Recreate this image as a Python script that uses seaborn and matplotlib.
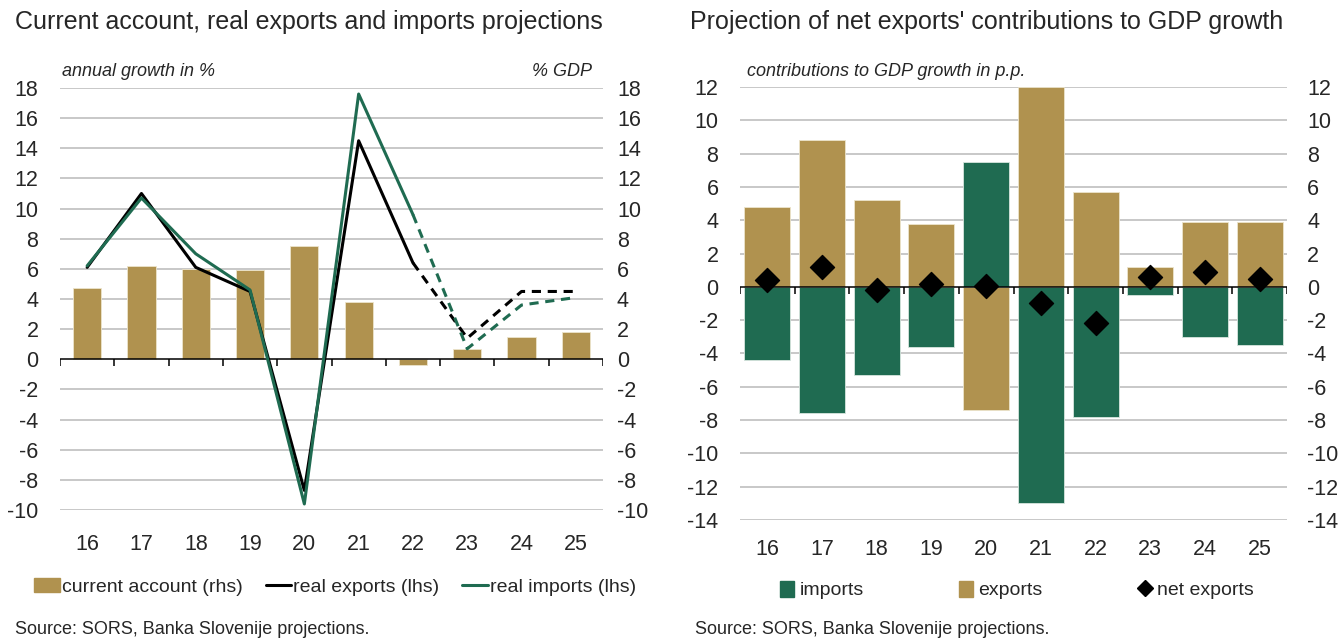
import numpy as np
import pandas as pd
import matplotlib
matplotlib.use('Agg')
import matplotlib.pyplot as plt
from matplotlib.patches import Patch
from matplotlib.lines import Line2D
import seaborn as sns

# %%
# Data
years = ['16', '17', '18', '19', '20', '21', '22', '23', '24', '25']

current_account = [4.7, 6.2, 6.0, 5.9, 7.5, 3.8, -0.4, 0.7, 1.5, 1.8]
real_exports = [6.1, 11.0, 6.1, 4.5, -8.7, 14.5, 6.4, 1.4, 4.5, 4.5]
real_imports = [6.2, 10.7, 7.0, 4.6, -9.6, 17.6, 9.6, 0.7, 3.6, 4.1]
last_actual = 6  # index of '22', where the projection (dashed) starts

exports_contrib = [4.8, 8.8, 5.2, 3.8, -7.4, 12.0, 5.7, 1.2, 3.9, 3.9]
imports_contrib = [-4.4, -7.6, -5.3, -3.6, 7.5, -13.0, -7.8, -0.5, -3.0, -3.5]
net_exports = [0.4, 1.2, -0.2, 0.2, 0.05, -1.0, -2.2, 0.6, 0.9, 0.5]

GOLD = '#b0924f'
GREEN = '#1f6b51'
GRID = '#c4c4c4'
FONT = ['Liberation Sans', 'DejaVu Sans']
TICK_FS = 15.5

sns.set_theme(style='white')
plt.rcParams['font.family'] = FONT

fig = plt.figure(figsize=(13.38, 6.39), dpi=100)
W, H = 1338, 639


def add_ax(x0, y0, x1, y1):
    return fig.add_axes([x0 / W, 1 - y1 / H, (x1 - x0) / W, (y1 - y0) / H])


def style_axis(ax, ylim, step, lpad, rpad, xpad):
    ax.set_ylim(*ylim)
    ax.set_xlim(-0.5, len(years) - 0.5)
    ticks = np.arange(ylim[0], ylim[1] + 0.1, step)
    for t in ticks:
        if t != 0:
            ax.axhline(t, color=GRID, lw=1.3, zorder=0)
    ax.axhline(0, color='black', lw=1.1, zorder=3)
    # small category separators hanging from the zero line
    tick_len = (ylim[1] - ylim[0]) * 0.016
    ax.vlines(np.arange(-0.5, len(years)), -tick_len, 0, color='black', lw=1.1, zorder=3)
    ax.set_xticks(np.arange(len(years)))
    ax.set_xticklabels(years)
    ax.set_yticks(ticks)
    ax.set_yticklabels([f'{t:g}' for t in ticks])
    ax.tick_params(axis='y', length=0, labelsize=TICK_FS, pad=lpad)
    ax.tick_params(axis='x', length=0, labelsize=TICK_FS, pad=xpad)
    ax.set_xlabel('')
    ax.set_ylabel('')
    ax.grid(False)
    for s in ax.spines.values():
        s.set_visible(False)
    # same scale repeated on the right-hand side
    twin = ax.twinx()
    twin.set_ylim(*ylim)
    twin.set_yticks(ticks)
    twin.set_yticklabels([f'{t:g}' for t in ticks])
    twin.tick_params(axis='y', length=0, labelsize=TICK_FS, pad=rpad)
    twin.grid(False)
    for s in twin.spines.values():
        s.set_visible(False)


# %%
# Left panel: current account, real exports and imports
ax1 = add_ax(60, 88, 603, 510)
sns.barplot(x=years, y=current_account, color=GOLD, width=0.52, saturation=1,
            edgecolor='#ece4cc', linewidth=0.6, ax=ax1, zorder=1)
x_pos = np.arange(len(years))
act = pd.DataFrame({'x': x_pos[:last_actual + 1],
                    'exp': real_exports[:last_actual + 1],
                    'imp': real_imports[:last_actual + 1]})
proj = pd.DataFrame({'x': x_pos[last_actual:],
                     'exp': real_exports[last_actual:],
                     'imp': real_imports[last_actual:]})
sns.lineplot(data=act, x='x', y='exp', color='black', lw=2.2, ax=ax1, zorder=4)
sns.lineplot(data=act, x='x', y='imp', color=GREEN, lw=2.2, ax=ax1, zorder=5)
sns.lineplot(data=proj, x='x', y='exp', color='black', lw=2.2, ax=ax1, zorder=4)
ax1.lines[-1].set_linestyle((0, (3, 2.2)))
sns.lineplot(data=proj, x='x', y='imp', color=GREEN, lw=2.2, ax=ax1, zorder=5)
ax1.lines[-1].set_linestyle((0, (3, 2.2)))
style_axis(ax1, (-10, 18), 2, 15.5, 10, 17)

# Right panel: contributions to GDP growth
ax2 = add_ax(740, 87, 1287, 520)
sns.barplot(x=years, y=exports_contrib, color=GOLD, width=0.84, saturation=1,
            edgecolor='#ece4cc', linewidth=0.6, ax=ax2, zorder=1)
sns.barplot(x=years, y=imports_contrib, color=GREEN, width=0.84, saturation=1,
            edgecolor='#d8e6df', linewidth=0.6, ax=ax2, zorder=1)
sns.scatterplot(x=x_pos, y=net_exports, marker='D', s=150, color='black',
                edgecolor='black', ax=ax2, zorder=6)
style_axis(ax2, (-14, 12), 2, 15.5, 14.5, 14)

# %%
# Titles, subtitles, legends and sources
fig.text(15 / W, 1 - 22 / H, 'Current account, real exports and imports projections',
         fontsize=18, va='center', ha='left')
fig.text(690 / W, 1 - 22 / H, "Projection of net exports' contributions to GDP growth",
         fontsize=18, va='center', ha='left')
fig.text(62 / W, 1 - 72 / H, 'annual growth in %', fontsize=13, style='italic', va='center')
fig.text(592 / W, 1 - 72 / H, '% GDP', fontsize=13, style='italic', va='center', ha='right')
fig.text(747 / W, 1 - 71 / H, 'contributions to GDP growth in p.p.', fontsize=13,
         style='italic', va='center')

left_handles = [Patch(color=GOLD), Line2D([], [], color='black', lw=2.2),
                Line2D([], [], color=GREEN, lw=2.2)]
fig.legend(left_handles, ['current account (rhs)', 'real exports (lhs)', 'real imports (lhs)'],
           loc='center', bbox_to_anchor=(335 / W, 1 - 587 / H), ncol=3, frameon=False,
           fontsize=14, handlelength=1.3, handletextpad=0.1, columnspacing=1.2)
right_handles = [Patch(color=GREEN), Patch(color=GOLD),
                 Line2D([], [], marker='D', color='black', ls='none', markersize=8)]
fig.legend(right_handles, ['imports', 'exports', 'net exports'],
           loc='center', bbox_to_anchor=(1017 / W, 1 - 590 / H), ncol=3, frameon=False,
           fontsize=14, handlelength=0.7, handleheight=0.9, handletextpad=0.3, columnspacing=4.9)

fig.text(15 / W, 1 - 630 / H, 'Source: SORS, Banka Slovenije projections.', fontsize=13, va='center')
fig.text(695 / W, 1 - 630 / H, 'Source: SORS, Banka Slovenije projections.', fontsize=13, va='center')

fig.savefig('out.png', dpi=100)
